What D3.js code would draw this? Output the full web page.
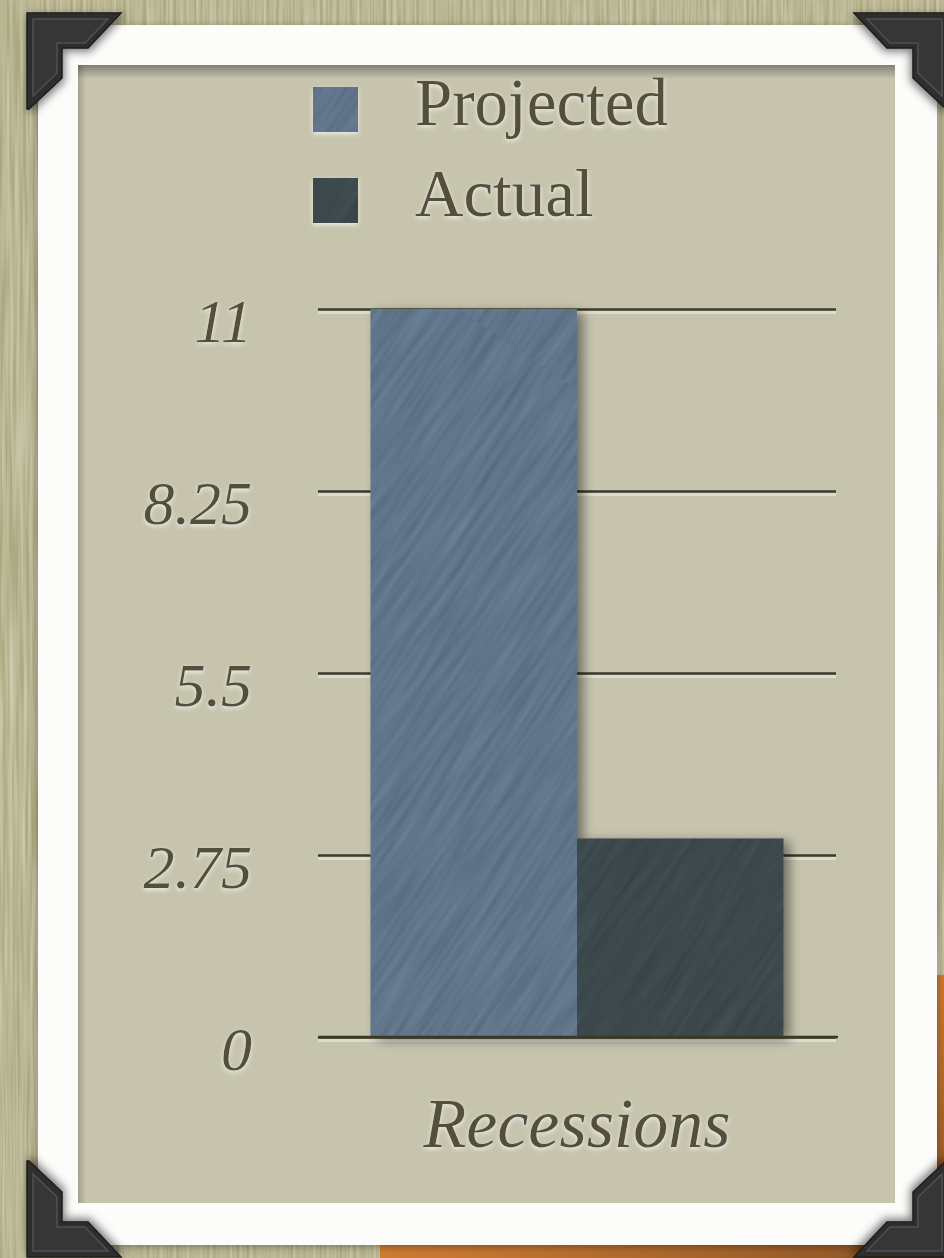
<!DOCTYPE html>
<html><head><meta charset="utf-8">
<script src="https://cdn.jsdelivr.net/npm/d3@7"></script>
<style>
html,body{margin:0;padding:0;background:#aaa77d;}
svg{display:block;}
</style></head>
<body>
<script>
// ---- data ----
const categories = ["Recessions"];
const seriesNames = ["Projected", "Actual"];
const projectedValues = [11];
const actualValues = [3];
const yTickValues = [0, 2.75, 5.5, 8.25, 11];
const yTickLabels = ["0", "2.75", "5.5", "8.25", "11"];
const seriesColors = ["#5f7489", "#3b484c"];

const W = 944, H = 1258;
const svg = d3.select("body").append("svg").attr("width", W).attr("height", H);
const defs = svg.append("defs");

// wall texture filter
const fw = defs.append("filter").attr("id","wall").attr("x",0).attr("y",0).attr("width",1).attr("height",1);
fw.append("feTurbulence").attr("type","fractalNoise").attr("baseFrequency","0.3 0.008").attr("numOctaves",2).attr("seed",3).attr("result","n");
fw.append("feColorMatrix").attr("in","n").attr("type","matrix")
  .attr("values","0 0 0 0 0.78  0 0 0 0 0.77  0 0 0 0 0.60  0 0 0 -1.0 0.72").attr("result","c");
fw.append("feComposite").attr("in","c").attr("in2","SourceGraphic").attr("operator","atop");

// streak filter for bars (opaque gray noise multiplied into base colour)
const fs = defs.append("filter").attr("id","streak").attr("x",0).attr("y",0).attr("width",1).attr("height",1);
fs.append("feTurbulence").attr("type","fractalNoise").attr("baseFrequency","0.012 0.16").attr("numOctaves",2).attr("seed",7).attr("result","n");
fs.append("feColorMatrix").attr("in","n").attr("type","matrix")
  .attr("values","1 0 0 0 0  1 0 0 0 0  1 0 0 0 0  0 0 0 0 1").attr("result","g");
fs.append("feComposite").attr("in","SourceGraphic").attr("in2","g").attr("operator","arithmetic")
  .attr("k1",0.55).attr("k2",0.74).attr("k3",0).attr("k4",0).attr("result","m");
fs.append("feComposite").attr("in","m").attr("in2","SourceGraphic").attr("operator","in");

seriesColors.forEach((c,i)=>{
  const p = defs.append("pattern").attr("id","tex"+i).attr("patternUnits","userSpaceOnUse")
    .attr("width",1400).attr("height",1400).attr("patternTransform","rotate(-56)");
  p.append("rect").attr("width",1400).attr("height",1400).attr("fill",c);
  p.append("rect").attr("width",1400).attr("height",1400).attr("fill",c).attr("filter","url(#streak)");
});

// drop shadow for bars
const fb = defs.append("filter").attr("id","barShadow").attr("filterUnits","userSpaceOnUse")
  .attr("x",300).attr("y",280).attr("width",580).attr("height",800);
fb.append("feGaussianBlur").attr("in","SourceAlpha").attr("stdDeviation",6).attr("result","b");
fb.append("feOffset").attr("in","b").attr("dx",6).attr("dy",3).attr("result","o");
fb.append("feComponentTransfer").attr("in","o").attr("result","oa").append("feFuncA").attr("type","linear").attr("slope",0.45);
const fbm = fb.append("feMerge"); fbm.append("feMergeNode").attr("in","oa"); fbm.append("feMergeNode").attr("in","SourceGraphic");

// text glow (light emboss)
const fg = defs.append("filter").attr("id","glow").attr("x","-20%").attr("y","-30%").attr("width","140%").attr("height","160%");
fg.append("feGaussianBlur").attr("in","SourceAlpha").attr("stdDeviation",2.2).attr("result","b");
fg.append("feOffset").attr("in","b").attr("dx",0).attr("dy",2).attr("result","o");
fg.append("feFlood").attr("flood-color","#ffffff").attr("flood-opacity",0.7);
fg.append("feComposite").attr("in2","o").attr("operator","in").attr("result","s");
const fgm = fg.append("feMerge"); fgm.append("feMergeNode").attr("in","s"); fgm.append("feMergeNode").attr("in","SourceGraphic");

// frame shadow
const ff = defs.append("filter").attr("id","frameShadow").attr("x","-5%").attr("y","-5%").attr("width","110%").attr("height","110%");
ff.append("feDropShadow").attr("dx",0).attr("dy",2).attr("stdDeviation",4).attr("flood-color","#000").attr("flood-opacity",0.35);

const fc = defs.append("filter").attr("id","cornerShadow").attr("x","-30%").attr("y","-30%").attr("width","160%").attr("height","160%");
fc.append("feDropShadow").attr("dx",2).attr("dy",3).attr("stdDeviation",4).attr("flood-color","#000").attr("flood-opacity",0.5);

const gTop = defs.append("linearGradient").attr("id","topShade").attr("x1",0).attr("y1",0).attr("x2",0).attr("y2",1);
gTop.append("stop").attr("offset",0).attr("stop-color","#000").attr("stop-opacity",0.35);
gTop.append("stop").attr("offset",1).attr("stop-color","#000").attr("stop-opacity",0);
const gLeft = defs.append("linearGradient").attr("id","leftShade").attr("x1",0).attr("y1",0).attr("x2",1).attr("y2",0);
gLeft.append("stop").attr("offset",0).attr("stop-color","#000").attr("stop-opacity",0.18);
gLeft.append("stop").attr("offset",1).attr("stop-color","#000").attr("stop-opacity",0);
const gOr = defs.append("linearGradient").attr("id","orange").attr("x1",0).attr("y1",0).attr("x2",1).attr("y2",1);
gOr.append("stop").attr("offset",0).attr("stop-color","#e8a34c");
gOr.append("stop").attr("offset",0.5).attr("stop-color","#c9772e");
gOr.append("stop").attr("offset",1).attr("stop-color","#7a4a22");

// ---- background ----
svg.append("rect").attr("width",W).attr("height",H).attr("fill","#aba87f").attr("filter","url(#wall)");
svg.append("rect").attr("x",380).attr("y",975).attr("width",600).attr("height",320).attr("fill","url(#orange)");

// photo frame
svg.append("rect").attr("x",38).attr("y",25).attr("width",899).attr("height",1220).attr("fill","#fcfcfa").attr("filter","url(#frameShadow)");
svg.append("rect").attr("x",78).attr("y",65).attr("width",817).attr("height",1138).attr("fill","#c7c4ae");
svg.append("rect").attr("x",78).attr("y",65).attr("width",817).attr("height",14).attr("fill","url(#topShade)");
svg.append("rect").attr("x",78).attr("y",65).attr("width",8).attr("height",1138).attr("fill","url(#leftShade)");

// ---- scales ----
const x0 = d3.scaleBand().domain(categories).range([318, 836]).paddingInner(0).paddingOuter(0.127);
const x1 = d3.scaleBand().domain(seriesNames).range([0, x0.bandwidth()]).padding(0);
const y = d3.scaleLinear().domain([0, 11]).range([1037, 309]);
const color = d3.scaleOrdinal().domain(seriesNames).range(seriesNames.map((d,i)=>"url(#tex"+i+")"));

const textColor = "#52503a";
const serif = "'Liberation Serif', 'DejaVu Serif', serif";

// ---- gridlines + y axis ----
const yAxis = d3.axisLeft(y).tickValues(yTickValues)
  .tickFormat(d=>yTickLabels[yTickValues.indexOf(d)])
  .tickSize(518).tickPadding(66);
const gy = svg.append("g").attr("transform","translate(836,0)").call(yAxis);
gy.select(".domain").remove();
gy.selectAll(".tick").insert("line",":first-child")
  .attr("x1",0).attr("x2",-518).attr("y1",3).attr("y2",3)
  .attr("stroke","#ffffff").attr("stroke-opacity",0.4).attr("stroke-width",3);
gy.selectAll(".tick line:not(:first-child)").attr("stroke","#3d3b27").attr("stroke-width",2.6);
gy.selectAll(".tick text").attr("fill",textColor).attr("font-family",serif)
  .attr("font-style","italic").attr("font-size",62).attr("dy","0.52em").attr("filter","url(#glow)");

// ---- bars ----
const rows = categories.map((c,i)=>({cat:c, values:[projectedValues[i], actualValues[i]]}));
const gb = svg.append("g").attr("filter","url(#barShadow)");
rows.forEach(r=>{
  seriesNames.forEach((s,j)=>{
    const v = r.values[j];
    gb.append("rect")
      .attr("x", x0(r.cat) + x1(s))
      .attr("y", y(v))
      .attr("width", x1.bandwidth())
      .attr("height", y(0) - y(v))
      .attr("fill", color(s));
  });
});
// baseline over bars
svg.append("line").attr("x1",318).attr("x2",838).attr("y1",y(0)).attr("y2",y(0))
  .attr("stroke","#3a3826").attr("stroke-width",2.6);

// ---- x label ----
svg.append("text").attr("x", x0(categories[0]) + x0.bandwidth()/2).attr("y",1147)
  .attr("text-anchor","middle").attr("fill",textColor)
  .attr("font-family",serif).attr("font-style","italic").attr("font-size",70)
  .attr("filter","url(#glow)").text(categories[0]);

// ---- legend ----
const legendY = d3.scalePoint().domain(seriesNames).range([87, 178]);
const lg = svg.append("g");
seriesNames.forEach(s=>{
  lg.append("rect").attr("x",313).attr("y",legendY(s)).attr("width",45).attr("height",45)
    .attr("fill",color(s)).attr("filter","url(#glow)");
  lg.append("text").attr("x",415).attr("y",legendY(s)+38).attr("fill",textColor)
    .attr("font-family",serif).attr("font-size",67)
    .attr("filter","url(#glow)").text(s);
});

// ---- photo corners ----
const cornerPath = "M27,13 L121,13 L88,48 L62,48 L62,78 L29,109 L27,109 Z";
const innerPath = "M33,19 L108,19 L85,43 L57,43 L57,73 L33,96 Z";
const corners = [
  "", "translate(975,0) scale(-1,1)", "translate(0,1270) scale(1,-1)", "translate(975,1270) scale(-1,-1)"
];
corners.forEach(t=>{
  const g = svg.append("g").attr("transform",t);
  g.append("path").attr("d",cornerPath).attr("fill","#2f2f2f").attr("stroke","#1c1c1c").attr("stroke-width",1.5).attr("filter","url(#cornerShadow)");
  g.append("path").attr("d",innerPath).attr("fill","#363636").attr("stroke","#505050").attr("stroke-width",1.5);
});
</script>
</body></html>
